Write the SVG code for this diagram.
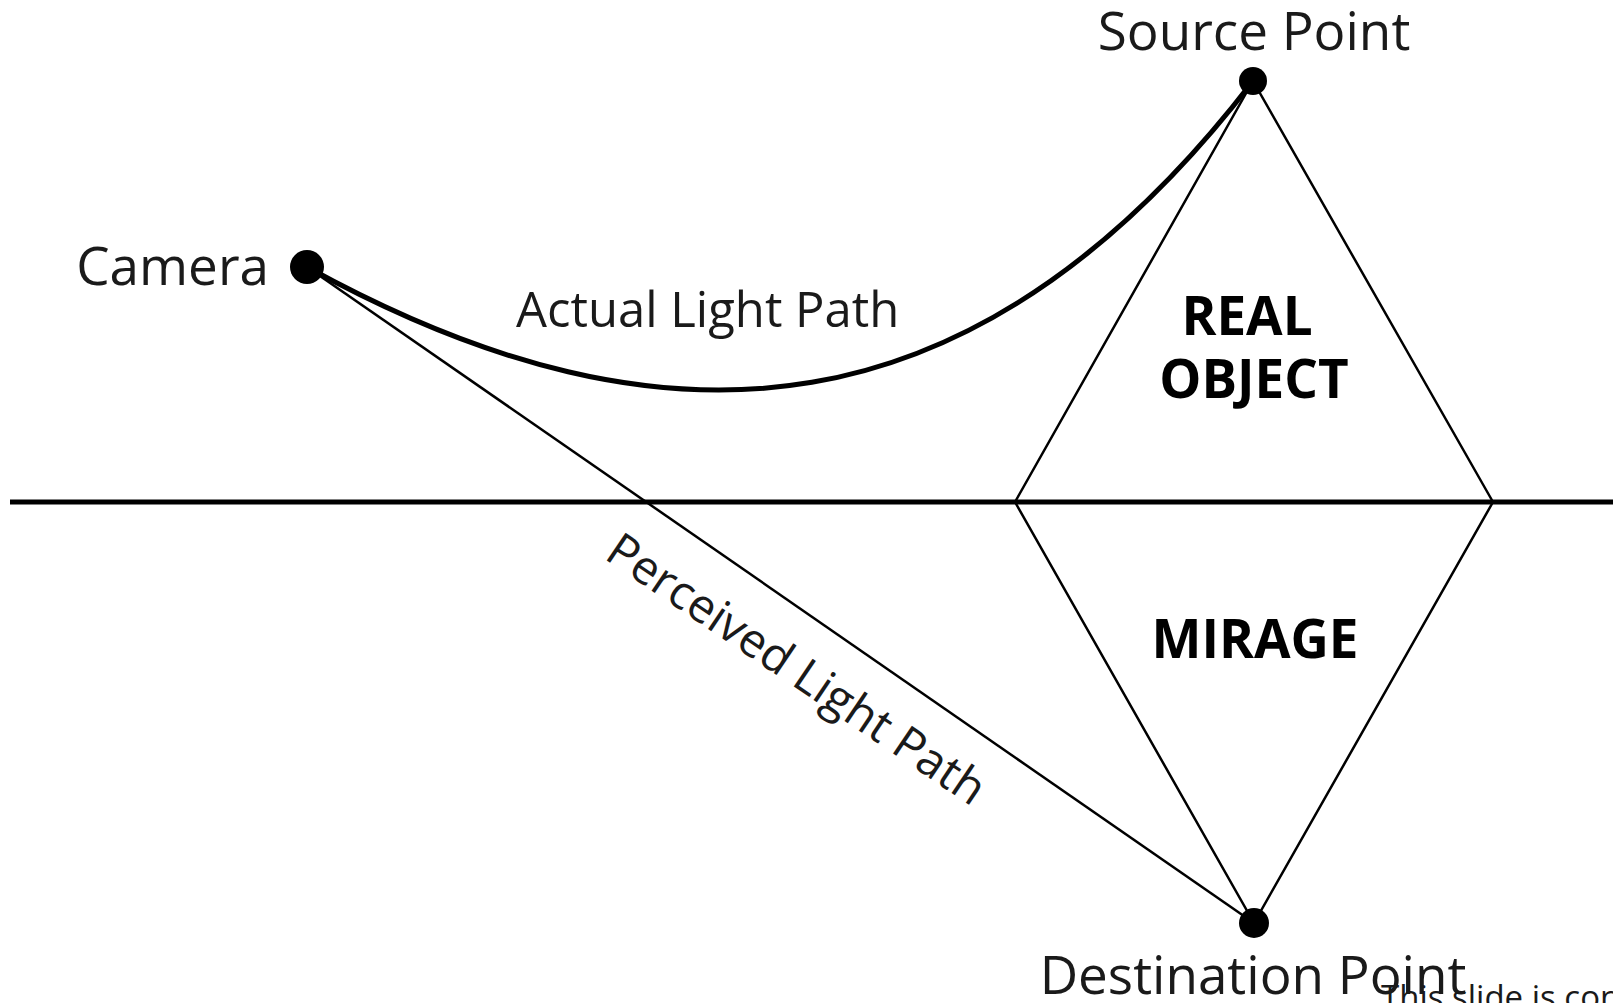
<svg xmlns="http://www.w3.org/2000/svg" width="1613" height="1003" viewBox="0 0 1613 1003">
<style>
  .lbl { font-family: "Open Sans", "Noto Sans", "Liberation Sans", sans-serif; fill: #1a1a1a; }
  .big { font-size: 53px; }
  .path-lbl { font-size: 49px; }
  .bold { font-family: "Open Sans", "Noto Sans", "Liberation Sans", sans-serif; font-weight: bold; font-size: 53px; fill: #000; text-anchor: middle; }
  .thin { stroke: #000; stroke-width: 2.5; fill: none; }
  .thick { stroke: #000; stroke-width: 5; fill: none; }
  .dot { fill: #000; }
</style>
<rect width="1613" height="1003" fill="#fff"/>
<g id="connectors">
  <line id="ground" class="thick" x1="10" y1="502" x2="1613" y2="502"/>
  <path id="actual-light-path" class="thick" d="M307,267 C667,465 978,438.5 1253,81"/>
  <line id="perceived-light-path" class="thin" x1="307" y1="267" x2="1254" y2="923"/>
  <polyline id="real-object-outline" class="thin" points="1015,502 1253,81 1493,502"/>
  <polyline id="mirage-outline" class="thin" points="1015,502 1254,923 1493,502"/>
</g>
<g id="camera">
  <circle class="dot" cx="307" cy="267" r="17"/>
  <text class="lbl big" x="269" y="285" text-anchor="end">Camera</text>
</g>
<g id="source-point">
  <circle class="dot" cx="1253" cy="81" r="14"/>
  <text class="lbl big" x="1254" y="50" text-anchor="middle">Source Point</text>
</g>
<g id="destination-point">
  <circle class="dot" cx="1254" cy="923" r="15"/>
  <text class="lbl big" x="1253" y="994" text-anchor="middle">Destination Point</text>
</g>
<g id="real-object">
  <text class="bold" x="1247" y="335">REAL</text>
  <text class="bold" x="1254" y="398">OBJECT</text>
</g>
<g id="mirage">
  <text class="bold" x="1255" y="658">MIRAGE</text>
</g>
<g id="labels">
  <text class="lbl path-lbl" x="516" y="327">Actual Light Path</text>
  <text class="lbl" font-size="47" transform="translate(603,558) rotate(34)">Perceived Light Path</text>
  <text class="lbl" x="1381" y="1009" font-size="33">This slide is con</text>
</g>
</svg>
